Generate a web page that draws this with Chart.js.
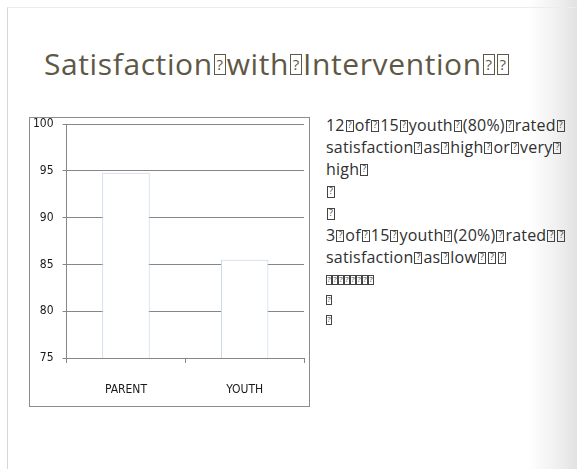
<!DOCTYPE html>
<html>
<head>
<meta charset="utf-8">
<script src="https://cdn.jsdelivr.net/npm/chart.js@4"></script>
<style>
    html, body { margin: 0; padding: 0; }
    body {
        width: 577px; height: 469px; overflow: hidden; position: relative;
        background: linear-gradient(to right, #ffffff 0px, #ffffff 528px, #f1f1f1 555px, #e2e2e2 577px);
        font-family: 'Open Sans', sans-serif;
    }
    .frame {
        position: absolute; left: 7px; top: 7px; width: 600px; height: 500px;
        border-left: 1px solid #d6d6d6; border-top: 1px solid #ececec;
    }
    .title {
        position: absolute; left: 44px; top: 43px; margin: 0;
        font-size: 30px; font-weight: 400; color: #5e5846; white-space: nowrap;
        letter-spacing: 0.6px;
    }
    /* missing-glyph boxes, as the source renders its odd space characters */
    .tofu {
        display: inline-block; box-sizing: border-box; position: relative;
        width: 8px; height: 12px; margin: 0 1px; vertical-align: -1px;
        border: 1px solid #444; overflow: hidden; letter-spacing: 0;
    }
    .tofu::after {
        content: '?'; position: absolute; left: 0; right: 0; top: -2px;
        text-align: center; font-size: 9px; line-height: 12px; color: #444;
    }
    .title .tofu { width: 12px; height: 21px; border-color: #5e5846; margin: 0 1px; vertical-align: 0; }
    .title .tofu::after { font-size: 15px; line-height: 21px; top: -1px; color: #5e5846; }
    .chartBox {
        position: absolute; left: 29px; top: 117px; width: 279px; height: 288px;
        border: 1px solid #8c8c8c; background: #fff;
    }
    .chartBox canvas { position: absolute; left: -6px; top: -10px; }
    .notes {
        position: absolute; left: 326px; top: 114px; width: 250px;
        font-size: 16px; line-height: 22px; color: #303030; white-space: nowrap;
        letter-spacing: 0.2px;
    }
    .notes .small { line-height: 20px; }
    .notes .small .tofu { width: 6px; height: 10px; margin: 0; }
    .notes .small .tofu::after { font-size: 8px; line-height: 10px; }
</style>
</head>
<body>
<div class="frame"></div>
<h1 class="title">Satisfaction<span class="tofu">&#xF020;</span>with<span class="tofu">&#xF020;</span>Intervention<span class="tofu">&#xF020;</span><span class="tofu">&#xF020;</span></h1>
<div class="chartBox"><canvas id="satisfactionChart" width="285" height="298"></canvas></div>
<div class="notes">
    <div>12<span class="tofu">&#xF020;</span>of<span class="tofu">&#xF020;</span>15<span class="tofu">&#xF020;</span>youth<span class="tofu">&#xF020;</span>(80%)<span class="tofu">&#xF020;</span>rated<span class="tofu">&#xF020;</span></div>
    <div>satisfaction<span class="tofu">&#xF020;</span>as<span class="tofu">&#xF020;</span>high<span class="tofu">&#xF020;</span>or<span class="tofu">&#xF020;</span>very<span class="tofu">&#xF020;</span></div>
    <div>high<span class="tofu">&#xF020;</span></div>
    <div><span class="tofu">&#xF020;</span></div>
    <div><span class="tofu">&#xF020;</span></div>
    <div>3<span class="tofu">&#xF020;</span>of<span class="tofu">&#xF020;</span>15<span class="tofu">&#xF020;</span>youth<span class="tofu">&#xF020;</span>(20%)<span class="tofu">&#xF020;</span>rated<span class="tofu">&#xF020;</span><span class="tofu">&#xF020;</span></div>
    <div>satisfaction<span class="tofu">&#xF020;</span>as<span class="tofu">&#xF020;</span>low<span class="tofu">&#xF020;</span><span class="tofu">&#xF020;</span><span class="tofu">&#xF020;</span></div>
    <div class="small"><span class="tofu">&#xF020;</span><span class="tofu">&#xF020;</span><span class="tofu">&#xF020;</span><span class="tofu">&#xF020;</span><span class="tofu">&#xF020;</span><span class="tofu">&#xF020;</span><span class="tofu">&#xF020;</span><span class="tofu">&#xF020;</span></div>
    <div class="small"><span class="tofu">&#xF020;</span></div>
    <div class="small"><span class="tofu">&#xF020;</span></div>
</div>
<script>
const CATEGORIES = ['PARENT', 'YOUTH'];
const SATISFACTION = [94.8, 85.5];
const Y_MIN = 75;
const Y_MAX = 100;
const Y_STEP = 5;

const AXIS_GREY = '#868686';
const TICK_FONT = { family: "'Liberation Sans Narrow', 'DejaVu Sans Condensed', sans-serif", size: 12 };

const ctx = document.getElementById('satisfactionChart').getContext('2d');
new Chart(ctx, {
    type: 'bar',
    data: {
        labels: CATEGORIES,
        datasets: [{
            data: SATISFACTION,
            backgroundColor: '#ffffff',
            borderColor: '#c3d1e6',
            borderWidth: 1,
            barPercentage: 0.4,
            categoryPercentage: 1,
        }]
    },
    options: {
        responsive: false,
        animation: false,
        layout: { padding: { top: 0, right: 5, left: 0, bottom: 0 } },
        plugins: { legend: { display: false }, tooltip: { enabled: false } },
        scales: {
            y: {
                min: Y_MIN, max: Y_MAX,
                ticks: { stepSize: Y_STEP, color: '#1a1a1a', font: TICK_FONT, padding: 9 },
                grid: { color: AXIS_GREY, tickLength: 4 },
                border: { color: AXIS_GREY },
            },
            x: {
                offset: true,
                ticks: { color: '#1a1a1a', font: TICK_FONT, padding: 20 },
                grid: { display: true, drawOnChartArea: false, color: AXIS_GREY, tickLength: 5, offset: true },
                border: { color: AXIS_GREY },
                afterFit: s => { s.height = 48; }
            }
        }
    }
});
</script>
</body>
</html>
